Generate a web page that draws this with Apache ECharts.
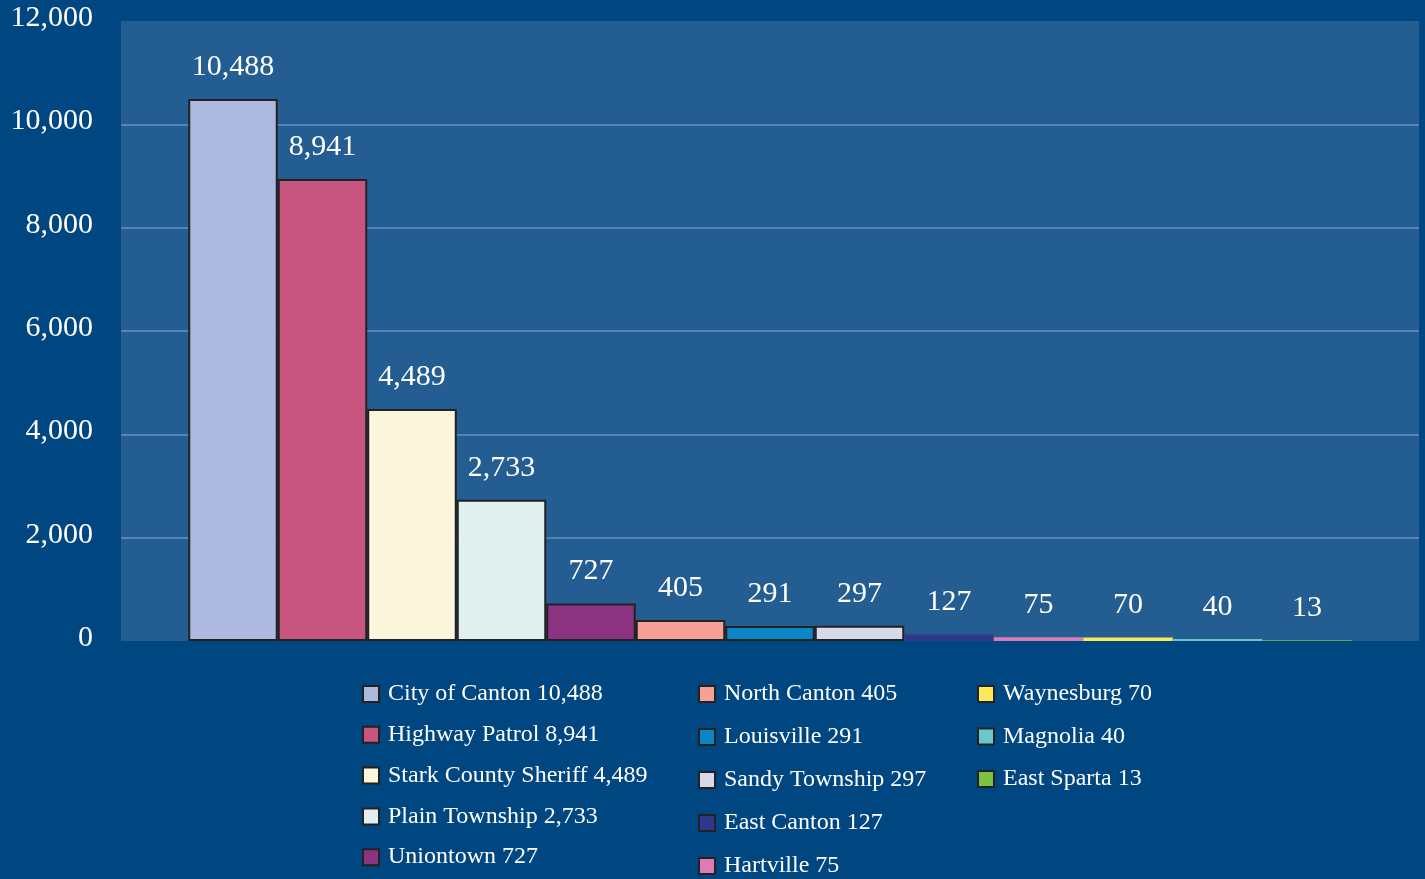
<!DOCTYPE html>
<html>
<head>
<meta charset="utf-8">
<script src="https://cdn.jsdelivr.net/npm/echarts@6/dist/echarts.min.js"></script>
<style>
html,body{margin:0;padding:0;background:#004680;}
#chart{width:1425px;height:879px;}
</style>
</head>
<body>
<div id="chart"></div>
<script>
const categories = ['City of Canton','Highway Patrol','Stark County Sheriff','Plain Township','Uniontown','North Canton','Louisville','Sandy Township','East Canton','Hartville','Waynesburg','Magnolia','East Sparta'];
const values = [10488,8941,4489,2733,727,405,291,297,127,75,70,40,13];
const colors = ['#adb9de','#c75580','#fcf6dc','#e0f0ee','#8b3280','#f7a196','#0a85c6','#d8d9e8','#2f388a','#dc7bb5','#fce95b','#6cc7c8','#7dc141'];
const yMax = 12000;
const yStep = 2000;

const legendCol1 = categories.slice(0,5);
const legendCol2 = categories.slice(5,10);
const legendCol3 = categories.slice(10);

const fmt = v => v.toLocaleString('en-US');
const serif = '"Liberation Serif", "DejaVu Serif", serif';

const chart = echarts.init(document.getElementById('chart'));

const series = categories.map((name, i) => ({
  name: name,
  type: 'bar',
  data: [values[i]],
  barWidth: 89.5,
  barGap: '0%',
  itemStyle: {
    color: colors[i],
    borderColor: values[i] >= 200 ? '#222' : colors[i],
    borderWidth: values[i] >= 200 ? 2 : 0
  },
  label: {
    show: true,
    position: 'top',
    distance: 17,
    color: '#ffffff',
    fontFamily: serif,
    fontSize: 30,
    formatter: p => fmt(p.value)
  }
}));

function makeLegend(data, left, gap) {
  return {
    data: data,
    orient: 'vertical',
    left: left,
    top: 682,
    height: 200,
    padding: 0,
    icon: 'rect',
    itemWidth: 16,
    itemHeight: 16,
    itemGap: gap,
    itemStyle: { borderColor: '#222', borderWidth: 2 },
    textStyle: { color: '#ffffff', fontFamily: serif, fontSize: 24, lineHeight: 24, padding: [0,0,0,4] },
    formatter: name => name + ' ' + fmt(values[categories.indexOf(name)]),
    selectedMode: false
  };
}

chart.setOption({
  backgroundColor: '#004680',
  animation: false,
  grid: {
    left: 121, right: 6, top: 21, bottom: 238,
    show: true, backgroundColor: '#235d91', borderWidth: 0
  },
  legend: [
    makeLegend(legendCol1, 362, 16.8),
    makeLegend(legendCol2, 698, 19),
    makeLegend(legendCol3, 977, 18.5)
  ],
  xAxis: {
    type: 'category',
    data: [''],
    axisLine: { show: false },
    axisTick: { show: false },
    axisLabel: { show: false }
  },
  yAxis: {
    type: 'value',
    min: 0,
    max: yMax,
    interval: yStep,
    axisLine: { show: false },
    axisTick: { show: false },
    axisLabel: {
      color: '#ffffff',
      fontFamily: serif,
      fontSize: 30,
      margin: 28,
      formatter: v => '{a|' + fmt(v) + '}',
      rich: {
        a: { color: '#ffffff', fontFamily: serif, fontSize: 30, padding: [0,0,6,0] }
      }
    },
    splitLine: { showMinLine: false, showMaxLine: false, lineStyle: { color: '#5683b1', width: 2 } }
  },
  series: series
});
</script>
</body>
</html>
